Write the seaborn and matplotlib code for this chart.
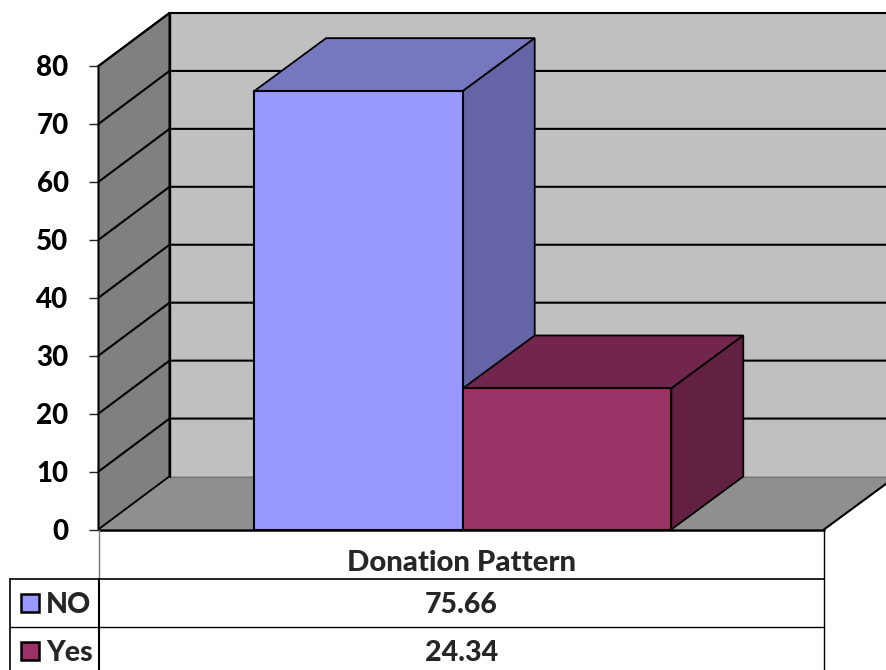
import matplotlib
matplotlib.use("Agg")
import matplotlib.pyplot as plt
from matplotlib.lines import Line2D
from matplotlib.patches import Polygon, Rectangle
import pandas as pd
import seaborn as sns

# Donation pattern shares
group_label = "Donation Pattern"
responses = ["NO", "Yes"]
shares = [75.66, 24.34]
tick_values = [0, 10, 20, 30, 40, 50, 60, 70, 80]

front_colors = ["#9999FF", "#993366"]
top_colors = ["#7777BF", "#73264D"]
side_colors = ["#6464A6", "#632142"]

sns.set_style("white")
plt.rcParams["font.family"] = ["Lato", "DejaVu Sans"]
plt.rcParams["font.weight"] = "black"

W, H = 887, 670
FONT = 20
WEIGHT = "black"


def fx(px):
    return px / W


def fy(py):
    return 1 - py / H


fig = plt.figure(figsize=(W / 100, H / 100), dpi=100, facecolor="white")
ax = fig.add_axes([fx(98.5), fy(529.5), (824 - 98.5) / W, (529.5 - 66) / H])
ax.patch.set_alpha(0)

frame = pd.DataFrame({"group": [group_label] * 2, "response": responses, "share": shares})
sns.barplot(
    data=frame, x="group", y="share", hue="response", hue_order=responses,
    palette=front_colors, saturation=1, width=0.575, gap=0, dodge=True,
    edgecolor="black", linewidth=1.5, legend=False, ax=ax, zorder=3,
)
ax.set_xlim(-0.502, 0.498)
ax.set_ylim(0, 80)
ax.set_xlabel("")
ax.set_ylabel("")
ax.set_xticks([])
ax.set_yticks(tick_values)
ax.tick_params(axis="y", length=6.5, width=1, color="#222222", pad=15,
               left=True, labelsize=FONT, labelcolor="black")
for label in ax.get_yticklabels():
    label.set_fontweight(WEIGHT)
for spine in ax.spines.values():
    spine.set_visible(False)

# Oblique depth of the 3D box, expressed in data units
wall_dx = 71 / 725.5
bar_dx = 72 / 725.5
depth_y = 53 / (463.5 / 80)
x0, x1 = ax.get_xlim()


def face(points, color, z, edge="black", lw=1.3):
    ax.add_patch(Polygon(points, closed=True, facecolor=color, edgecolor=edge,
                         linewidth=lw, zorder=z, clip_on=False))


# Walls and floor
face([(x0 + wall_dx, depth_y), (x1 + bar_dx, depth_y), (x1 + bar_dx, 80 + depth_y),
      (x0 + wall_dx, 80 + depth_y)], "#C0C0C0", 0.5, edge="none", lw=0)
face([(x0, 0), (x0 + wall_dx, depth_y), (x0 + wall_dx, 80 + depth_y), (x0, 80)],
     "#808080", 0.6, edge="black", lw=1.5)
face([(x0, 0), (x1, 0), (x1 + bar_dx, depth_y), (x0 + wall_dx, depth_y)],
     "#8F8F8F", 0.7, edge="none", lw=0)

# Wall gridlines
for v in tick_values[1:]:
    ax.plot([x0, x0 + wall_dx, x1 + bar_dx], [v, v + depth_y, v + depth_y],
            color="black", lw=1.5, zorder=0.9, clip_on=False, solid_joinstyle="miter")
ax.plot([x0, x0 + wall_dx], [0, depth_y], color="black", lw=1.1, zorder=0.9, clip_on=False)
ax.plot([x0 + wall_dx, x1 + bar_dx], [depth_y, depth_y], color="#777777", lw=1, zorder=0.9, clip_on=False)
ax.plot([x1, x1 + bar_dx], [0, depth_y], color="black", lw=1.5, zorder=0.9, clip_on=False)
ax.plot([x0 + wall_dx, x0 + wall_dx], [depth_y, 80 + depth_y], color="black", lw=1, zorder=0.95, clip_on=False)
ax.plot([x0, x1], [0, 0], color="black", lw=1.8, zorder=5, clip_on=False)

# Top and side faces of each bar
for bar, top, side in zip(ax.patches[:2], top_colors, side_colors):
    left, right = bar.get_x(), bar.get_x() + bar.get_width()
    h = bar.get_height()
    face([(left, h), (right, h), (right + bar_dx, h + depth_y), (left + bar_dx, h + depth_y)], top, 2)
    face([(right, 0), (right + bar_dx, depth_y), (right + bar_dx, h + depth_y), (right, h)], side, 2)

# Data table below the plot
table_lines = [
    ((99, 99), (530, 579), "#777777", 1.0),
    ((824, 824), (530, 670), "black", 1.0),
    ((10, 824), (579, 579), "black", 1.2),
    ((10, 824), (627, 627), "black", 1.0),
    ((10, 10), (579, 670), "black", 1.2),
    ((99, 99), (579, 670), "black", 1.5),
]
for xs, ys, color, lw in table_lines:
    fig.add_artist(Line2D([fx(v) for v in xs], [fy(v) for v in ys], color=color, lw=lw,
                          transform=fig.transFigure))

fig.text(fx(461.5), fy(563), group_label, ha="center", va="center", fontsize=21.2, fontweight=WEIGHT)
rows = [605, 653]
for row, name, value, color in zip(rows, responses, shares, front_colors):
    fig.add_artist(Rectangle((fx(21), fy(row + 7)), 18 / W, 18 / H, transform=fig.transFigure,
                             facecolor=color, edgecolor="black", linewidth=1.8))
    fig.text(fx(46), fy(row), name, ha="left", va="center", fontsize=20.5, fontweight=WEIGHT)
    fig.text(fx(461.5), fy(row), f"{value:.2f}", ha="center", va="center", fontsize=20.5, fontweight=WEIGHT)

fig.savefig("out.png", dpi=100)
